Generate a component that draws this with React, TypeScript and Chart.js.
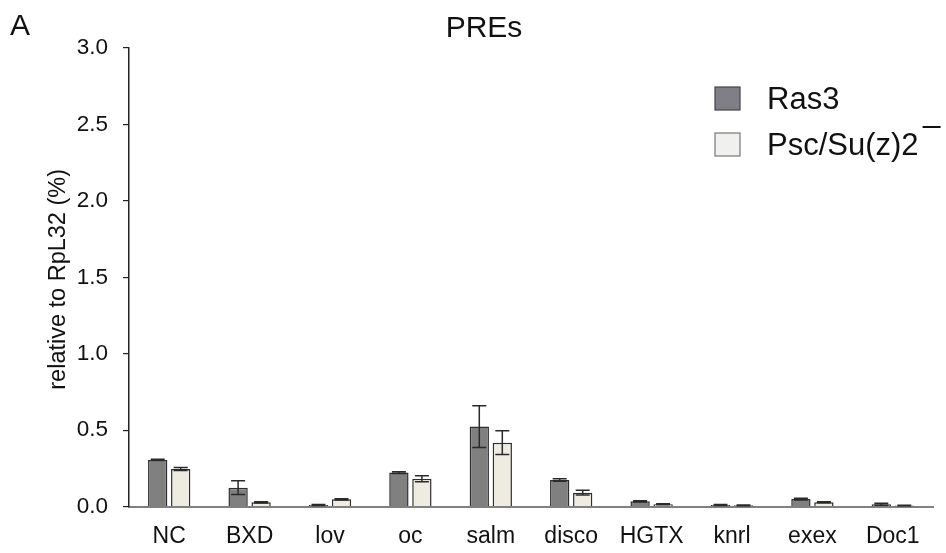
import React, { useEffect, useRef } from "react";
import { Chart, registerables } from "chart.js";

Chart.register(...registerables);

const categories = ["NC", "BXD", "lov", "oc", "salm", "disco", "HGTX", "knrl", "exex", "Doc1"];
const seriesNames = ["Ras3", "Psc/Su(z)2"];
const ras3Values = [0.306, 0.124, 0.011, 0.223, 0.524, 0.175, 0.035, 0.011, 0.05, 0.016];
const ras3Errors = [0.004, 0.045, 0.003, 0.006, 0.137, 0.008, 0.004, 0.003, 0.006, 0.006];
const pscValues = [0.247, 0.029, 0.048, 0.183, 0.419, 0.092, 0.016, 0.009, 0.029, 0.008];
const pscErrors = [0.01, 0.004, 0.004, 0.02, 0.077, 0.015, 0.003, 0.002, 0.003, 0.002];
const yTicks = [0, 0.5, 1.0, 1.5, 2.0, 2.5, 3.0];

const FONT = "'Liberation Sans', Arial, Helvetica, sans-serif";

const errorBarPlugin = {
  id: "errorBars",
  afterDatasetsDraw(chart: any) {
    const ctx = chart.ctx;
    const yScale = chart.scales.y;
    chart.data.datasets.forEach((ds: any, di: number) => {
      const meta = chart.getDatasetMeta(di);
      const errs: number[] = ds.errors || [];
      meta.data.forEach((el: any, i: number) => {
        const v = ds.data[i];
        const e = errs[i] || 0;
        if (!e) return;
        const x = el.x;
        const yTop = yScale.getPixelForValue(v + e);
        const yBot = yScale.getPixelForValue(Math.max(0, v - e));
        ctx.save();
        ctx.strokeStyle = "#2a2a2a";
        ctx.lineWidth = 1.5;
        ctx.beginPath();
        ctx.moveTo(x, yTop);
        ctx.lineTo(x, yBot);
        ctx.moveTo(x - 7, yTop);
        ctx.lineTo(x + 7, yTop);
        ctx.moveTo(x - 7, yBot);
        ctx.lineTo(x + 7, yBot);
        ctx.stroke();
        ctx.restore();
      });
    });
  },
};

const decorPlugin = {
  id: "decor",
  afterDraw(chart: any) {
    const ctx = chart.ctx;
    const area = chart.chartArea;
    ctx.save();
    ctx.fillStyle = "#111";
    // panel letter
    ctx.font = `30px ${FONT}`;
    ctx.textAlign = "left";
    ctx.textBaseline = "alphabetic";
    ctx.fillText("A", 10, 35);
    // title
    ctx.textAlign = "center";
    ctx.fillText("PREs", 484, 37);
    // y-axis title
    ctx.save();
    ctx.translate(65, (area.top + area.bottom) / 2 + 2);
    ctx.rotate(-Math.PI / 2);
    ctx.font = `23.5px ${FONT}`;
    ctx.textAlign = "center";
    ctx.textBaseline = "alphabetic";
    ctx.fillText("relative to RpL32 (%)", 0, 0);
    ctx.restore();
    // legend
    const fills = ["#7f7f85", "#f0f0ee"];
    const strokes = ["#444", "#777"];
    const boxY = [87, 133];
    ctx.font = `31px ${FONT}`;
    ctx.textAlign = "left";
    chart.data.datasets.forEach((ds: any, i: number) => {
      ctx.fillStyle = fills[i];
      ctx.fillRect(715, boxY[i], 25, 23);
      ctx.strokeStyle = strokes[i];
      ctx.lineWidth = 1.2;
      ctx.strokeRect(715, boxY[i], 25, 23);
      ctx.fillStyle = "#111";
      ctx.fillText(ds.label, 767, boxY[i] + 22);
      if (i === 1) {
        const w = ctx.measureText(ds.label).width;
        ctx.strokeStyle = "#111";
        ctx.lineWidth = 2;
        ctx.beginPath();
        ctx.moveTo(767 + w + 4, 127);
        ctx.lineTo(767 + w + 22, 127);
        ctx.stroke();
      }
    });
    ctx.restore();
  },
};

export default function App() {
  const ref = useRef<HTMLCanvasElement | null>(null);
  useEffect(() => {
    document.body.style.margin = "0";
    const canvas = ref.current;
    if (!canvas) return;
    const chart = new Chart(canvas, {
      type: "bar",
      data: {
        labels: categories,
        datasets: [
          {
            label: seriesNames[0],
            data: ras3Values,
            errors: ras3Errors,
            backgroundColor: "#808080",
            borderColor: "#2e2e2e",
            borderWidth: 1.5,
            categoryPercentage: 0.572,
            barPercentage: 0.84,
          } as any,
          {
            label: seriesNames[1],
            data: pscValues,
            errors: pscErrors,
            backgroundColor: "#eeece1",
            borderColor: "#2e2e2e",
            borderWidth: 1.5,
            categoryPercentage: 0.572,
            barPercentage: 0.84,
          } as any,
        ],
      },
      options: {
        responsive: false,
        animation: false,
        devicePixelRatio: 1,
        layout: { padding: { top: 48, right: 13, left: 0, bottom: 0 } },
        plugins: {
          legend: { display: false },
          title: { display: false },
          tooltip: { enabled: false },
        },
        scales: {
          x: {
            grid: { display: false, drawTicks: false },
            border: { display: true, color: "#808080", width: 2 },
            ticks: {
              color: "#111",
              font: { family: FONT, size: 23 },
              padding: 16,
              maxRotation: 0,
              autoSkip: false,
            },
            afterFit(scale: any) {
              scale.height = 46.3;
            },
          },
          y: {
            min: 0,
            max: 3,
            afterBuildTicks(scale: any) {
              scale.ticks = yTicks.map((v) => ({ value: v }));
            },
            grid: {
              display: true,
              drawOnChartArea: false,
              drawTicks: true,
              tickLength: 6,
              color: "#222",
              lineWidth: 1.2,
            },
            border: { display: true, color: "#222", width: 1.5 },
            ticks: {
              color: "#111",
              font: { family: FONT, size: 22.5 },
              padding: 15,
              callback: (v: any) => Number(v).toFixed(1),
            },
            afterFit(scale: any) {
              scale.width = 129;
            },
          },
        },
      } as any,
      plugins: [errorBarPlugin, decorPlugin],
    });
    return () => chart.destroy();
  }, []);
  return (
    <div style={{ width: 946, height: 553, background: "#fff" }}>
      <canvas ref={ref} width={946} height={553} style={{ display: "block" }} />
    </div>
  );
}
